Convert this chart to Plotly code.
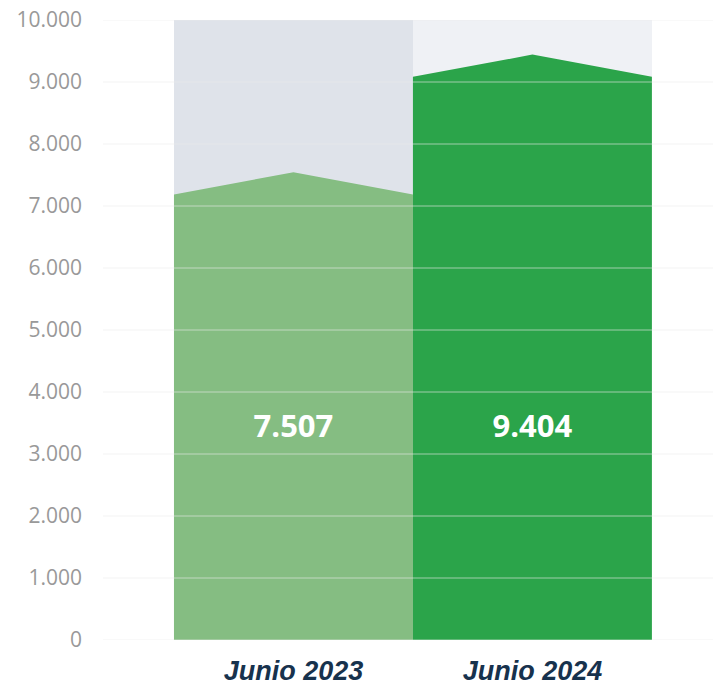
import plotly.graph_objects as go

categories = ["Junio 2023", "Junio 2024"]
values = [7507, 9404]
axis_max = 10000
tick_values = [0, 1000, 2000, 3000, 4000, 5000, 6000, 7000, 8000, 9000, 10000]

bar_colors = ["#85bd82", "#2ba44a"]
bg_colors = ["#dfe3ea", "#eff1f5"]
ridge_drop = 320   # edges below value
ridge_rise = 38    # peak above value
label_y = 3400

xs = list(range(len(categories)))
fig = go.Figure()

# background columns
fig.add_trace(go.Bar(x=xs, y=[axis_max] * len(xs), width=1.0,
                     marker=dict(color=bg_colors, line=dict(width=0)),
                     hoverinfo="skip", showlegend=False))

# house-shaped bars
for i, (v, c) in enumerate(zip(values, bar_colors)):
    fig.add_trace(go.Scatter(
        x=[i - 0.5, i - 0.5, i, i + 0.5, i + 0.5, i - 0.5],
        y=[0, v - ridge_drop, v + ridge_rise, v - ridge_drop, 0, 0],
        mode="lines", fill="toself", fillcolor=c,
        line=dict(width=0, color=c), hoverinfo="skip", showlegend=False))

# value labels
fig.add_trace(go.Scatter(
    x=xs, y=[label_y] * len(xs), mode="text",
    text=[f"{v:,}".replace(",", ".") for v in values],
    textfont=dict(family="Open Sans", size=31, color="white", weight="bold"),
    hoverinfo="skip", showlegend=False))

# grid lines drawn above the bars
for t in tick_values:
    fig.add_shape(type="line", xref="paper", x0=0, x1=1, yref="y", y0=t, y1=t,
                  line=dict(color="rgba(235,235,235,0.6)", width=1), layer="above")

fig.update_layout(
    width=721, height=684,
    margin=dict(l=95, r=9, t=12, b=52, autoexpand=False),
    paper_bgcolor="white", plot_bgcolor="white",
    separators=",.",
    bargap=0,
    xaxis=dict(range=[-0.797, 1.785], tickvals=xs, ticktext=categories,
               automargin=False,
               showgrid=False, zeroline=False, showline=False,
               ticks="outside", ticklen=7, tickcolor="rgba(0,0,0,0)",
               tickfont=dict(family="Liberation Sans", size=27,
                             color="#17324d", weight="bold", style="italic")),
    yaxis=dict(range=[0, axis_max], tickvals=tick_values,
               ticktext=[f"{t:,}".replace(",", ".") for t in tick_values],
               automargin=False, ticklabeloverflow="allow",
               showgrid=False, zeroline=False, showline=False,
               ticklabelstandoff=20,
               tickfont=dict(family="Open Sans", size=21, color="#999999")),
)

fig.write_html("out.html")
